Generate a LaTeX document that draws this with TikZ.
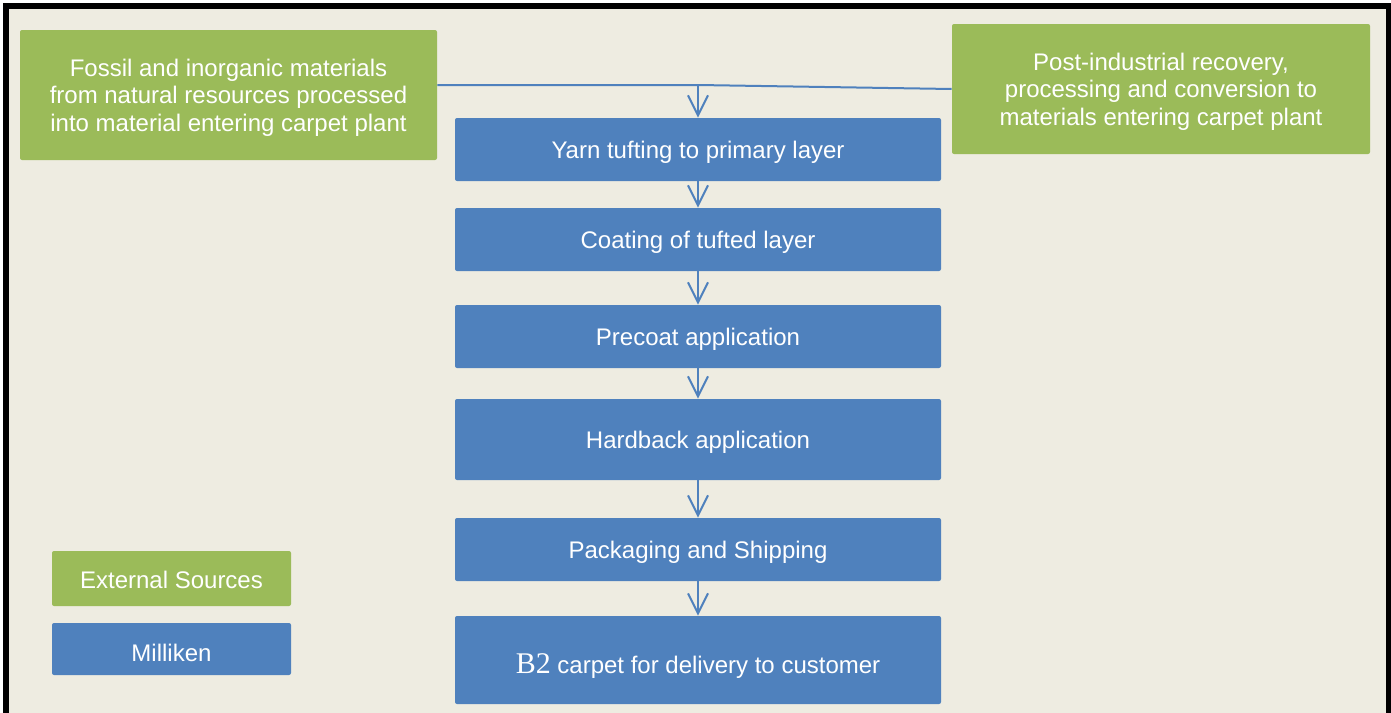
\documentclass[tikz,border=0pt]{standalone}
\usepackage{fontspec}
\setmainfont{Liberation Sans}
\newfontfamily\btwofont{Liberation Serif}
\usetikzlibrary{arrows.meta}
\definecolor{bgbeige}{HTML}{EEECE1}
\definecolor{srcgreen}{HTML}{9BBB59}
\definecolor{stepblue}{HTML}{4F81BD}
\begin{document}
\begin{tikzpicture}[>={Straight Barb[length=10pt,width=10pt]},x=0.5pt,y=-0.5pt,
	srcbox/.style={fill=srcgreen,rounded corners=1pt,text=white,align=center,inner sep=0pt,
		text depth=0pt,font=\fontsize{12}{13.8}\selectfont},
	millbox/.style={fill=stepblue,rounded corners=1pt,text=white,align=center,inner sep=0pt,
		minimum width=243pt,text depth=0pt,font=\fontsize{12}{13.8}\selectfont},
	legendbox/.style={rounded corners=1pt,text=white,inner sep=0pt,minimum width=119.5pt,
		text depth=0pt,font=\fontsize{12}{13.8}\selectfont},
	flow/.style={->,line width=1pt,stepblue}]
		\clip (0,0) rectangle (1391,712);
		\fill[white] (0,0) rectangle (1391,712);
		\draw[line width=3pt,fill=bgbeige] (6,6) rectangle (1389,760);
		\node[srcbox,minimum width=208.5pt,minimum height=65pt] (fossil) at (228.5,95)
		{Fossil and inorganic materials\\from natural resources processed\\into material entering carpet plant};
		\node[srcbox,minimum width=209pt,minimum height=65pt] (postind) at (1161,89)
		{Post-industrial recovery,\\processing and conversion to\\materials entering carpet plant};
		\node[millbox,minimum height=31.5pt] (tufting) at (698,149.5) {Yarn tufting to primary layer};
		\node[millbox,minimum height=31.5pt] (coating) at (698,239.5) {Coating of tufted layer};
		\node[millbox,minimum height=31.5pt] (precoat) at (698,336.5) {Precoat application};
		\node[millbox,minimum height=40.5pt] (hardback) at (698,439.5) {Hardback application};
		\node[millbox,minimum height=31.5pt] (packaging) at (698,549.5) {Packaging and Shipping};
		\node[millbox,minimum height=44pt,text height=13pt] (delivery) at (698,660)
		{{\btwofont\fontsize{15}{15}\selectfont B2} carpet for delivery to customer};
		\node[legendbox,fill=srcgreen,minimum height=27.5pt,text height=10pt] (extsrc) at (171.5,578.5) {External Sources};
		\node[legendbox,fill=stepblue,minimum height=26pt,text height=12pt] (milliken) at (171.5,649) {Milliken};
		\coordinate (join) at (698,85);
		\draw[line width=1pt,stepblue] (fossil.east|-join) -- (join) -- (postind.west);
		\draw[flow] (join) -- (tufting);
		\foreach \a/\b in {tufting/coating,coating/precoat,precoat/hardback,hardback/packaging,packaging/delivery}
		\draw[flow] (\a) -- (\b);
\end{tikzpicture}
\end{document}
